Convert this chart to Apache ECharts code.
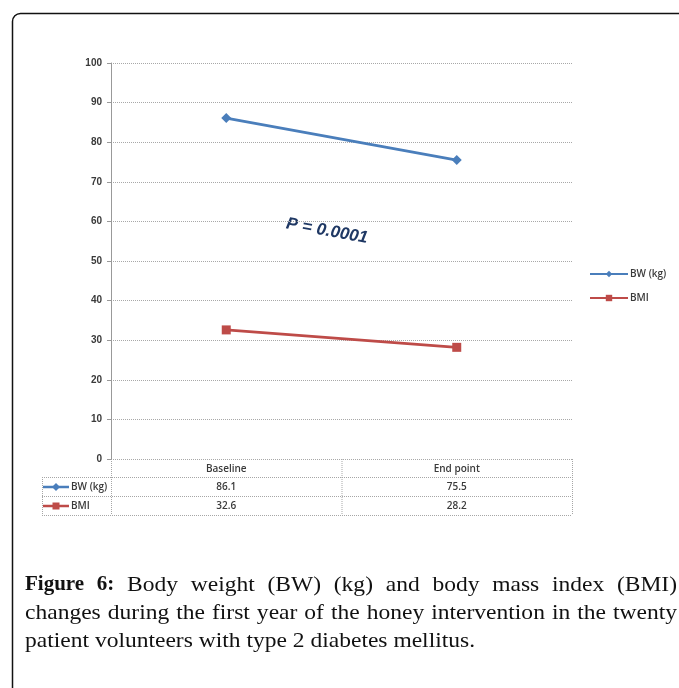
<!DOCTYPE html>
<html><head><meta charset="utf-8">
<script src="https://cdn.jsdelivr.net/npm/echarts@6/dist/echarts.min.js"></script>
<style>html,body{margin:0;padding:0;background:#fff}#c{width:679px;height:688px}</style>
</head><body><div id="c"></div>
<script>
const categories = ['Baseline', 'End point'];
const seriesNames = ['BW (kg)', 'BMI'];
const bwValues = [86.1, 75.5];
const bmiValues = [32.6, 28.2];
const yTicks = [0, 10, 20, 30, 40, 50, 60, 70, 80, 90, 100];
const annotation = 'P = 0.0001';
const captionBold = 'Figure 6:';
const captionLines = [
  'Body weight (BW) (kg) and body mass index (BMI)',
  'changes during the first year of the honey intervention in the twenty',
  'patient volunteers with type 2 diabetes mellitus.'
];

const colors = ['#4a7ebb', '#be4b48'];
const symbols = ['diamond', 'rect'];
const allValues = [bwValues, bmiValues];

const G = {left: 111, top: 63, right: 572, bottom: 459};
const chart = echarts.init(document.getElementById('c'));

const serifFont = '"Liberation Serif", "Times New Roman", serif';
const capSize = 21;
const regScale = 1.12;

const mctx = document.createElement('canvas').getContext('2d');
function mw(t, bold) { mctx.font = (bold ? 'bold ' : '') + capSize + 'px ' + serifFont; return mctx.measureText(t).width * (bold ? 1 : regScale); }

const graphics = [];
graphics.push({type: 'rect', shape: {x: 12.5, y: 13.5, width: 700, height: 700, r: [8, 0, 0, 0]},
  style: {fill: 'none', stroke: '#111', lineWidth: 1.5}, silent: true});

// table
const rowY = [459, 477, 496, 515];
const tabLeft = 42;
const lineStyle = {stroke: '#a6a6a6', lineWidth: 1, lineDash: [1, 1]};
function hline(x1, x2, y) { graphics.push({type: 'line', shape: {x1, y1: y + 0.5, x2, y2: y + 0.5}, style: lineStyle, silent: true}); }
function vline(x, y1, y2) { graphics.push({type: 'line', shape: {x1: x + 0.5, y1, x2: x + 0.5, y2}, style: lineStyle, silent: true}); }
hline(G.left, G.right, rowY[0]);
hline(tabLeft, G.right, rowY[1]);
hline(tabLeft, G.right, rowY[2]);
hline(tabLeft, G.right, rowY[3]);
vline(tabLeft, rowY[1], rowY[3]);
const colEdges = [G.left, (G.left + G.right) / 2, G.right];
colEdges.forEach(x => vline(x, rowY[0], rowY[3]));
const tabFont = {fontFamily: '"Open Sans", Arial, sans-serif', fontSize: 10, fontWeight: 600, fill: '#3a3a3a'};
categories.forEach((c, i) => {
  const cx = (colEdges[i] + colEdges[i + 1]) / 2;
  graphics.push({type: 'text', x: cx, y: (rowY[0] + rowY[1]) / 2 + 1.5, style: Object.assign({text: c, align: 'center', verticalAlign: 'middle'}, tabFont), silent: true});
  allValues.forEach((vals, s) => {
    graphics.push({type: 'text', x: cx, y: (rowY[s + 1] + rowY[s + 2]) / 2 + 1, style: Object.assign({text: vals[i].toFixed(1), align: 'center', verticalAlign: 'middle'}, tabFont), silent: true});
  });
});
seriesNames.forEach((n, s) => {
  const cy = (rowY[s + 1] + rowY[s + 2]) / 2 + 0.5;
  graphics.push({type: 'line', shape: {x1: 43, y1: cy, x2: 69, y2: cy}, style: {stroke: colors[s], lineWidth: 2.5}, silent: true});
  if (s === 0) graphics.push({type: 'polygon', shape: {points: [[56, cy - 4], [60, cy], [56, cy + 4], [52, cy]]}, style: {fill: colors[s]}, silent: true});
  else graphics.push({type: 'rect', shape: {x: 52.5, y: cy - 3.5, width: 7, height: 7}, style: {fill: colors[s]}, silent: true});
  graphics.push({type: 'text', x: 71, y: cy + 0.5, style: Object.assign({text: n, align: 'left', verticalAlign: 'middle'}, tabFont), silent: true});
});

// annotation
graphics.push({type: 'text', x: 327, y: 231, rotation: -0.18,
  style: {text: annotation, align: 'center', verticalAlign: 'middle', fontFamily: 'Arial, "Liberation Sans", sans-serif',
    fontSize: 17, fontStyle: 'italic', fontWeight: 'bold', fill: '#1f3864'}, silent: true});

// caption
const capLeft = 25, capRight = 677;
const midY = [585, 613, 641];
function wordText(w, x, y, bold) {
  graphics.push({type: 'text', x, y, scaleX: bold ? 1 : regScale, style: {text: w, fontFamily: serifFont, fontSize: capSize,
    fontWeight: bold ? 'bold' : 'normal', fill: '#111', verticalAlign: 'middle', align: 'left'}, silent: true});
}
function justified(words, y, boldFirstCount) {
  const widths = words.map((w, i) => mw(w, i < boldFirstCount));
  const total = widths.reduce((a, b) => a + b, 0);
  const gap = (capRight - capLeft - total) / (words.length - 1);
  let x = capLeft;
  words.forEach((w, i) => { wordText(w, x, y, i < boldFirstCount); x += widths[i] + gap; });
}
justified(captionBold.split(' ').concat(captionLines[0].split(' ')), midY[0], 2);
justified(captionLines[1].split(' '), midY[1], 0);
wordText(captionLines[2], capLeft, midY[2], false);

chart.setOption({
  animation: false,
  grid: {left: G.left, top: G.top, right: 679 - G.right, bottom: 688 - G.bottom, containLabel: false},
  legend: {
    orient: 'vertical', left: 584, top: 264, itemWidth: 38, itemHeight: 8, itemGap: 14,
    textStyle: {fontFamily: '"Open Sans", Arial, sans-serif', fontSize: 10, fontWeight: 600, color: '#3a3a3a', padding: [0, 0, 0, -3]},
    data: seriesNames
  },
  xAxis: {
    type: 'category', data: categories, boundaryGap: true,
    axisLine: {show: false}, axisTick: {show: false}, axisLabel: {show: false}, splitLine: {show: false}
  },
  yAxis: {
    type: 'value', min: yTicks[0], max: yTicks[yTicks.length - 1], interval: 10,
    axisLine: {show: true, lineStyle: {color: '#999', width: 1}},
    axisTick: {show: true, length: 4, lineStyle: {color: '#999'}},
    axisLabel: {color: '#3a3a3a', fontFamily: 'Arial, "Liberation Sans", sans-serif', fontSize: 10, fontWeight: 'bold', margin: 9},
    splitLine: {show: true, lineStyle: {color: '#a8a8a8', type: [1, 1], width: 1}}
  },
  series: seriesNames.map((n, s) => ({
    name: n, type: 'line', data: allValues[s], symbol: symbols[s], symbolSize: s === 0 ? 10 : 9,
    lineStyle: {color: colors[s], width: 2.8}, itemStyle: {color: colors[s]}
  })),
  graphic: graphics
});
</script></body></html>
